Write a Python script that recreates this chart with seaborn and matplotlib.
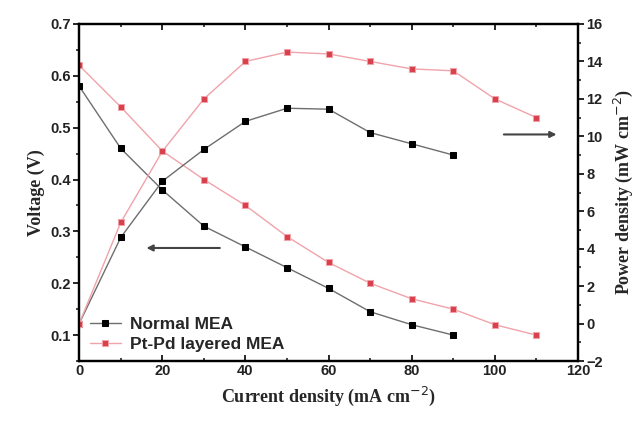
import matplotlib
matplotlib.use("Agg")
import matplotlib.pyplot as plt
import seaborn as sns
import pandas as pd

# data
current_normal = [0, 10, 20, 30, 40, 50, 60, 70, 80, 90]
voltage_normal = [0.58, 0.46, 0.38, 0.31, 0.27, 0.23, 0.19, 0.145, 0.12, 0.10]
power_normal = [0.0, 4.6, 7.6, 9.3, 10.8, 11.5, 11.45, 10.2, 9.6, 9.0]

current_ptpd = [0, 10, 20, 30, 40, 50, 60, 70, 80, 90, 100, 110]
voltage_ptpd = [0.62, 0.54, 0.455, 0.40, 0.35, 0.29, 0.24, 0.20, 0.17, 0.15, 0.12, 0.10]
power_ptpd = [0.0, 5.4, 9.2, 12.0, 14.0, 14.5, 14.4, 14.0, 13.6, 13.5, 12.0, 11.0]

labels = ["Normal MEA", "Pt-Pd layered MEA"]

normal_df = pd.DataFrame({"I": current_normal, "V": voltage_normal, "P": power_normal})
ptpd_df = pd.DataFrame({"I": current_ptpd, "V": voltage_ptpd, "P": power_ptpd})

sns.set_style("ticks")
plt.rcParams["font.family"] = ["Liberation Sans", "DejaVu Sans"]

black_line = "#6e6e6e"
red_line = "#f0a3aa"
red_mark = "#d8404c"
msize = 4.8

fig = plt.figure(figsize=(6.44, 4.21), dpi=100)
ax = fig.add_axes([0.123, 0.1425, 0.7745, 0.8005])
ax2 = ax.twinx()

# voltage curves (left axis)
sns.lineplot(data=normal_df, x="I", y="V", ax=ax, color=black_line, lw=1,
             marker="s", markersize=msize, markerfacecolor="black", markeredgecolor="black",
             label=labels[0])
sns.lineplot(data=ptpd_df, x="I", y="V", ax=ax, color=red_line, lw=1,
             marker="s", markersize=msize, markerfacecolor=red_mark, markeredgecolor="#f2a0a8",
             label=labels[1])

# power curves (right axis)
sns.lineplot(data=normal_df, x="I", y="P", ax=ax2, color=black_line, lw=1,
             marker="s", markersize=msize, markerfacecolor="black", markeredgecolor="black",
             legend=False)
sns.lineplot(data=ptpd_df, x="I", y="P", ax=ax2, color=red_line, lw=1,
             marker="s", markersize=msize, markerfacecolor=red_mark, markeredgecolor="#f2a0a8",
             legend=False)

ax.set_xlim(0, 120)
ax.set_ylim(0.05, 0.7)
ax2.set_ylim(-2, 16)
ax.set_xticks(range(0, 121, 20))
ax.set_xticks(range(10, 120, 20), minor=True)
ax.set_yticks([0.1, 0.2, 0.3, 0.4, 0.5, 0.6, 0.7])
ax.set_yticks([0.05, 0.15, 0.25, 0.35, 0.45, 0.55, 0.65], minor=True)
ax2.set_yticks(range(-2, 17, 2))
ax2.set_yticks(range(-1, 16, 2), minor=True)

for a in (ax, ax2):
    for s in a.spines.values():
        s.set_linewidth(1.6)
        s.set_color("black")
    a.tick_params(which="major", length=4, width=1.4, labelsize=10.5, pad=2)
    a.tick_params(which="minor", length=2.5, width=1.2)
ax.tick_params(axis="x", which="both", direction="in", top=True)
ax.tick_params(axis="y", which="both", direction="out")
ax2.tick_params(axis="y", which="both", direction="out")
for lab in ax.get_xticklabels() + ax.get_yticklabels() + ax2.get_yticklabels():
    lab.set_fontweight("bold")
    lab.set_color("#222222")

serif = {"family": ["Liberation Serif", "DejaVu Serif"], "weight": "bold", "size": 13}
ax.set_xlabel("Current density (mA cm$^{-2}$)", fontdict=serif, labelpad=5)
ax.set_ylabel("Voltage (V)", fontdict=serif, labelpad=4)
ax2.set_ylabel("Power density (mW cm$^{-2}$)", fontdict=serif, labelpad=6)

# arrows pointing to the respective axes
ax.annotate("", xy=(15.5, 0.268), xytext=(34.5, 0.268),
            arrowprops=dict(arrowstyle="-|>", color="#444444", lw=1.5, mutation_scale=9))
ax2.annotate("", xy=(115.5, 10.1), xytext=(101.5, 10.1),
             arrowprops=dict(arrowstyle="-|>", color="#444444", lw=1.5, mutation_scale=9))

leg = ax.legend(loc="lower left", bbox_to_anchor=(-0.01, -0.02), frameon=False,
                handlelength=1.8, handletextpad=0.5, labelspacing=0.3,
                prop={"weight": "bold", "size": 12.5})

fig.savefig("out.png", dpi=100)
